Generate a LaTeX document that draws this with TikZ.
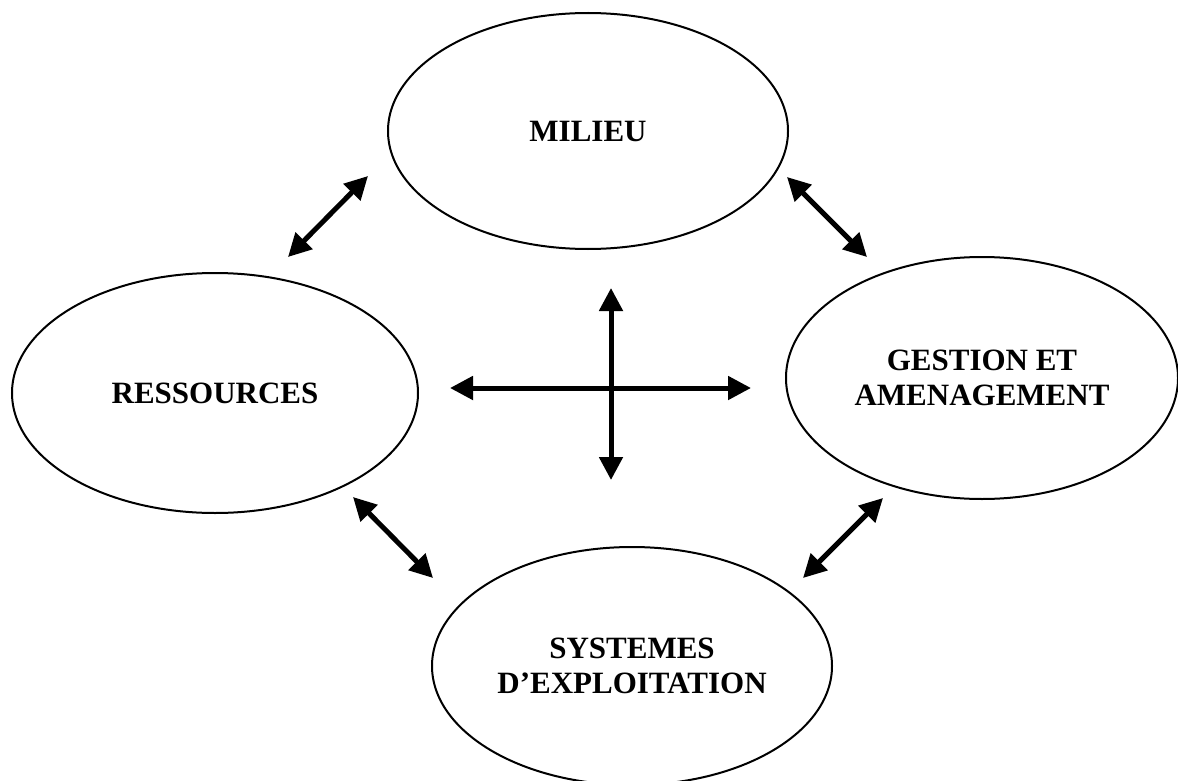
\documentclass[tikz,border=0pt]{standalone}
\usepackage{fontspec}
\setmainfont{Liberation Serif}
\usepackage{tikz}
\usetikzlibrary{shapes,arrows.meta,positioning,calc}

\tikzset{
    pole/.style={draw, ellipse, line width=1pt, inner sep=0pt,
        minimum width=200pt, minimum height=118pt, align=center,
        font=\fontsize{15.5}{17.5}\selectfont\bfseries},
    link/.style={line width=2.5pt, {Triangle[length=11.5pt,width=11.5pt]}-{Triangle[length=11.5pt,width=11.5pt]}}
}

\begin{document}
\begin{tikzpicture}[x=0.5pt, y=-0.5pt]
    \useasboundingbox (0,0) rectangle (1178,781);

    \node[pole] (milieu) at (588,131) {MILIEU};
    \node[pole, minimum width=203pt, minimum height=120pt] (ressources) at (215,393) {RESSOURCES};
    \node[pole, minimum width=196pt, minimum height=121pt] (gestion) at (982,378) {GESTION ET\\AMENAGEMENT};
    \node[pole, minimum height=119pt] (systemes) at (632,666) {SYSTEMES\\D'EXPLOITATION};

    % ends of the links
    \coordinate (mr1) at (368,176);
    \coordinate (mr2) at (288,257);
    \coordinate (mg1) at (787,177);
    \coordinate (mg2) at (867,257);
    \coordinate (rs1) at (353,497);
    \coordinate (rs2) at (433,578);
    \coordinate (gs1) at (883,498);
    \coordinate (gs2) at (803,578);

    \draw[link] (mr1) -- (mr2);
    \draw[link] (mg1) -- (mg2);
    \draw[link] (rs1) -- (rs2);
    \draw[link] (gs1) -- (gs2);

    % central cross
    \coordinate (west) at (450,388);
    \coordinate (east) at (751,388);
    \coordinate (north) at (611,288);
    \coordinate (south) at (611,480);
    \draw[link] (west) -- (east);
    \draw[link] (north) -- (south);
\end{tikzpicture}
\end{document}
